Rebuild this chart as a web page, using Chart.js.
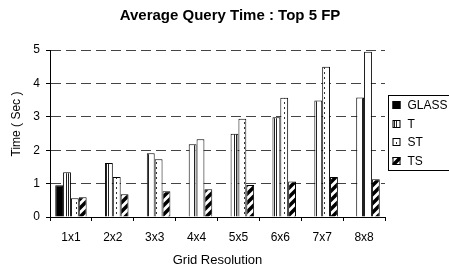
<!DOCTYPE html>
<html><head><meta charset="utf-8">
<script src="https://cdn.jsdelivr.net/npm/chart.js@4/dist/chart.umd.min.js"></script>
<style>html,body{margin:0;padding:0;background:#fff}</style>
</head><body>
<canvas id="c" width="449" height="269" style="width:449px;height:269px;display:block"></canvas>
<script>
const categories = ['1x1','2x2','3x3','4x4','5x5','6x6','7x7','8x8'];
const seriesNames = ['GLASS','T','ST','TS'];
const glassValues = [0.95, null, null, null, null, null, null, null];
const tValues  = [1.34, 1.62, 1.91, 2.18, 2.49, 2.99, 3.49, 3.58];
const stValues = [0.56, 1.20, 1.73, 2.33, 2.94, 3.57, 4.50, 4.95];
const tsValues = [0.59, 0.68, 0.77, 0.83, 0.96, 1.06, 1.20, 1.13];
const yTicks = [0, 1, 2, 3, 4, 5];
const titleText = 'Average Query Time : Top 5 FP';
const xTitle = 'Grid Resolution';
const yTitle = 'Time ( Sec )';

const FONT = 'Arial, "Liberation Sans", Helvetica, sans-serif';
const canvas = document.getElementById('c');
const mainCtx = canvas.getContext('2d');

function makePattern(w, h, draw) {
  const c = document.createElement('canvas');
  c.width = w; c.height = h;
  const x = c.getContext('2d');
  x.fillStyle = '#fff'; x.fillRect(0, 0, w, h);
  draw(x);
  return mainCtx.createPattern(c, 'repeat');
}
const patT = makePattern(8, 1, x => {
  x.fillStyle = '#222'; x.fillRect(2, 0, 1, 1); x.fillRect(4, 0, 1, 1);
});
const patST = makePattern(8, 5, x => {
  x.fillStyle = '#333'; x.fillRect(4, 2, 1, 2);
});
const patTS = makePattern(9, 9, x => {
  x.strokeStyle = '#000'; x.lineWidth = 3.5;
  x.beginPath();
  x.moveTo(-2, 11); x.lineTo(11, -2);
  x.moveTo(-7, 7); x.lineTo(7, -7);
  x.moveTo(2, 16); x.lineTo(16, 2);
  x.stroke();
});
const fills = ['#000', patT, patST, patTS];
const seriesValues = [glassValues, tValues, stValues, tsValues];

const annotPlugin = {
  id: 'boxLegendAndTitles',
  afterDraw(chart) {
    const ctx = chart.ctx;
    const ca = chart.chartArea;
    ctx.save();
    // chart title
    ctx.fillStyle = '#000';
    ctx.font = 'bold 15px ' + FONT;
    ctx.textAlign = 'center';
    ctx.textBaseline = 'middle';
    ctx.fillText(titleText, 230, 16);
    // y axis title
    ctx.save();
    ctx.translate(17, 124);
    ctx.rotate(-Math.PI / 2);
    ctx.font = '12px ' + FONT;
    ctx.fillText(yTitle, 0, 0);
    ctx.restore();
    // legend
    const left = Math.round(ca.right) + 3.5;
    const top = 95.5;
    ctx.strokeStyle = '#000'; ctx.lineWidth = 1;
    ctx.strokeRect(left, top, 80, 75);
    ctx.font = '12px ' + FONT;
    ctx.textBaseline = 'middle';
    ctx.textAlign = 'left';
    chart.data.datasets.forEach((ds, i) => {
      const cy = 105 + i * 18.7;
      const sx = left + 4;
      ctx.fillStyle = ds.backgroundColor;
      ctx.fillRect(sx, Math.round(cy - 4), 8, 8);
      ctx.strokeStyle = '#000';
      ctx.strokeRect(sx + 0.5, Math.round(cy - 4) + 0.5, 7, 7);
      ctx.fillStyle = '#000';
      ctx.fillText(ds.label, sx + 15, cy + 0.5);
    });
    ctx.restore();
  }
};

new Chart(canvas, {
  type: 'bar',
  data: {
    labels: categories,
    datasets: seriesNames.map((name, i) => ({
      label: name,
      data: seriesValues[i],
      backgroundColor: fills[i],
      borderColor: '#000',
      borderWidth: 1,
      borderSkipped: 'bottom',
      barPercentage: 1,
      categoryPercentage: 0.75
    }))
  },
  options: {
    responsive: false,
    animation: false,
    events: [],
    layout: { padding: { top: 50, right: 64, bottom: 0, left: 0 } },
    plugins: {
      legend: { display: false },
      tooltip: { enabled: false },
      title: { display: false }
    },
    scales: {
      x: {
        grid: { display: true, drawOnChartArea: false, drawTicks: true, tickLength: 4, color: '#000', offset: true },
        border: { display: true, color: '#000', width: 1 },
        ticks: { color: '#000', padding: 9, font: { family: FONT, size: 12 }, maxRotation: 0 },
        title: { display: true, text: xTitle, color: '#000', font: { family: FONT, size: 13 }, padding: { top: 0, bottom: 1.2 } },
        afterFit(s) { s.height = 52; }
      },
      y: {
        min: yTicks[0], max: yTicks[yTicks.length - 1],
        afterBuildTicks(s) { s.ticks = yTicks.map(v => ({ value: v })); },
        grid: { display: true, drawOnChartArea: true, drawTicks: true, tickLength: 4, color: '#444', tickColor: '#000' },
        border: { display: true, color: '#000', width: 1, dash: [10, 5] },
        ticks: { color: '#000', padding: 6, font: { family: FONT, size: 12 } },
        title: { display: false },
        afterFit(s) { s.width = 50; }
      }
    }
  },
  plugins: [annotPlugin]
});
</script>
</body></html>
